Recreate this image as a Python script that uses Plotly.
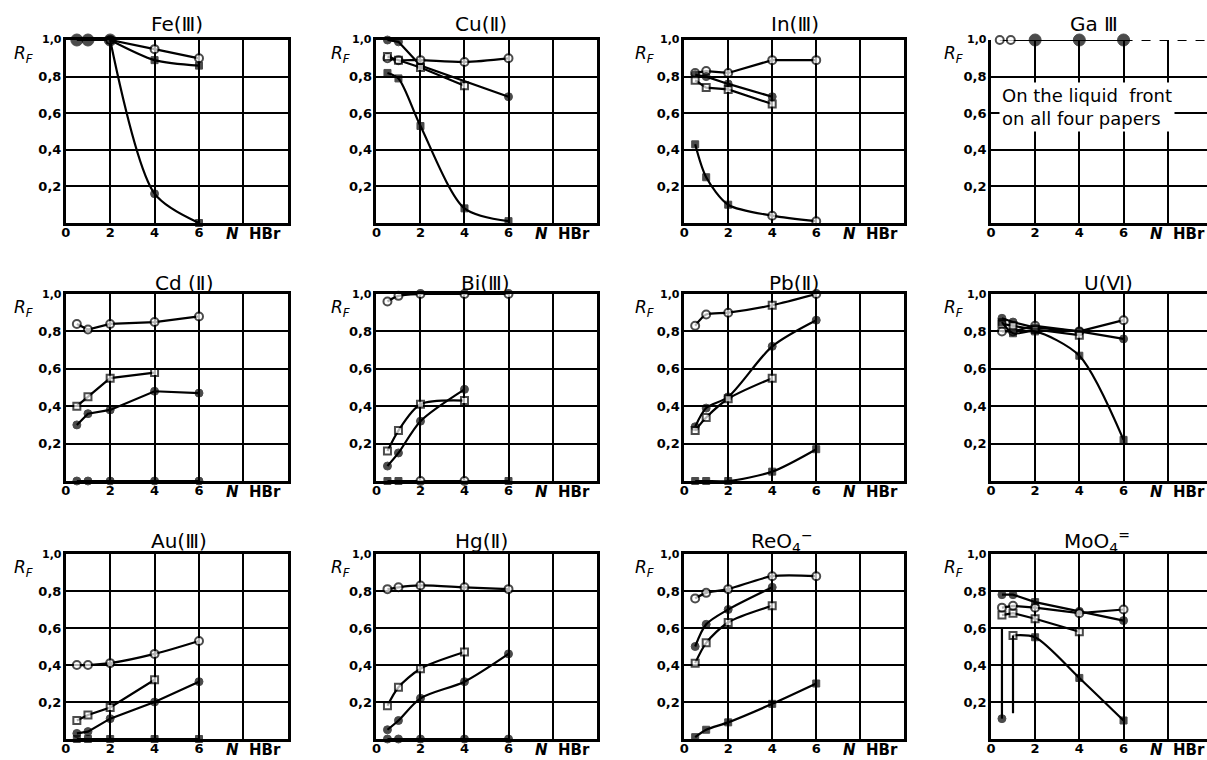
import plotly.graph_objects as go

W, H = 1207, 760

# ---------------- text / ticks ----------------
titles = ["Fe(Ⅲ)", "Cu(Ⅱ)", "In(Ⅲ)", "Ga Ⅲ",
          "Cd (Ⅱ)", "Bi(Ⅲ)", "Pb(Ⅱ)", "U(Ⅵ)",
          "Au(Ⅲ)", "Hg(Ⅱ)", "ReO<sub>4</sub><sup>−</sup>", "MoO<sub>4</sub><sup>=</sup>"]
x_tick_vals = [0, 2, 4, 6]
x_tick_text = ["0", "2", "4", "6"]
x_extra_grid = [8]
y_tick_vals = [0.2, 0.4, 0.6, 0.8]
y_tick_text = ["0,2", "0,4", "0,6", "0,8"]
y_top_val = 1.0
y_top_text = "1,0"
x_label = "<i>N</i>\u00a0\u00a0HBr"
x_label_pos = 8.45
y_label = "<i>R</i><sub><i>F</i></sub>"
y_label_pos = 0.92
ga_note = "On the liquid\u00a0 front<br>on all four papers"
ga_note_y = 0.635
ga_note_x = 0.35

# ---------------- data (N HBr, R_F) ----------------
# Fe(III)
fe_a_x = [0.5, 1, 2];        fe_a_y = [1.0, 1.0, 1.0]
fe_b_x = [2, 4, 6];          fe_b_y = [1.0, 0.95, 0.90]
fe_c_x = [2, 4, 6];          fe_c_y = [1.0, 0.89, 0.86]
fe_d_x = [2, 4, 6];          fe_d_y = [1.0, 0.16, 0.0]
# Cu(II)
cu_a_x = [0.5, 1, 2, 6];     cu_a_y = [1.0, 0.99, 0.86, 0.69]
cu_b_x = [0.5, 1, 2, 4, 6];  cu_b_y = [0.90, 0.89, 0.89, 0.88, 0.90]
cu_c_x = [0.5, 1, 2, 4];     cu_c_y = [0.91, 0.89, 0.85, 0.75]
cu_d_x = [0.5, 1, 2, 4, 6];  cu_d_y = [0.82, 0.79, 0.53, 0.08, 0.01]
# In(III)
in_a_x = [0.5, 1, 2, 4, 6];  in_a_y = [0.82, 0.83, 0.82, 0.89, 0.89]
in_b_x = [0.5, 1, 2, 4];     in_b_y = [0.81, 0.80, 0.76, 0.69]
in_c_x = [0.5, 1, 2, 4];     in_c_y = [0.78, 0.74, 0.73, 0.65]
in_d_x = [0.5, 1, 2, 4, 6];  in_d_y = [0.43, 0.25, 0.10, 0.04, 0.01]
# Ga(III)
ga_a_x = [0.4, 0.9];         ga_a_y = [1.0, 1.0]
ga_b_x = [2, 4, 6];          ga_b_y = [1.0, 1.0, 1.0]
# Cd(II)
cd_a_x = [0.5, 1, 2, 4, 6];  cd_a_y = [0.84, 0.81, 0.84, 0.85, 0.88]
cd_b_x = [0.5, 1, 2, 4];     cd_b_y = [0.40, 0.45, 0.55, 0.58]
cd_c_x = [0.5, 1, 2, 4, 6];  cd_c_y = [0.30, 0.36, 0.38, 0.48, 0.47]
cd_d_x = [0.5, 1, 2, 4, 6];  cd_d_y = [0, 0, 0, 0, 0]
# Bi(III)
bi_a_x = [0.5, 1, 2, 4, 6];  bi_a_y = [0.96, 0.99, 1.0, 1.0, 1.0]
bi_b_x = [0.5, 1, 2, 4];     bi_b_y = [0.16, 0.27, 0.41, 0.43]
bi_c_x = [0.5, 1, 2, 4];     bi_c_y = [0.08, 0.15, 0.32, 0.49]
bi_d_x = [0.5, 1, 2, 4, 6];  bi_d_y = [0, 0, 0, 0, 0]
# Pb(II)
pb_a_x = [0.5, 1, 2, 4, 6];  pb_a_y = [0.83, 0.89, 0.90, 0.94, 1.0]
pb_b_x = [0.5, 1, 2, 4, 6];  pb_b_y = [0.29, 0.39, 0.45, 0.72, 0.86]
pb_c_x = [0.5, 1, 2, 4];     pb_c_y = [0.27, 0.34, 0.44, 0.55]
pb_d_x = [0.5, 1, 2, 4, 6];  pb_d_y = [0, 0, 0, 0.05, 0.17]
# U(VI)
u_a_x = [0.5, 1, 2, 4, 6];   u_a_y = [0.80, 0.80, 0.83, 0.80, 0.86]
u_b_x = [0.5, 1, 2, 4, 6];   u_b_y = [0.87, 0.85, 0.82, 0.80, 0.76]
u_c_x = [0.5, 1, 2, 4];      u_c_y = [0.84, 0.83, 0.81, 0.78]
u_d_x = [0.5, 1, 2, 4, 6];   u_d_y = [0.85, 0.79, 0.80, 0.67, 0.22]
# Au(III)
au_a_x = [0.5, 1, 2, 4, 6];  au_a_y = [0.40, 0.40, 0.41, 0.46, 0.53]
au_b_x = [0.5, 1, 2, 4];     au_b_y = [0.10, 0.13, 0.17, 0.32]
au_c_x = [0.5, 1, 2, 4, 6];  au_c_y = [0.03, 0.04, 0.11, 0.20, 0.31]
au_d_x = [0.5, 1, 2, 4, 6];  au_d_y = [0, 0, 0, 0, 0]
# Hg(II)
hg_a_x = [0.5, 1, 2, 4, 6];  hg_a_y = [0.81, 0.82, 0.83, 0.82, 0.81]
hg_b_x = [0.5, 1, 2, 4];     hg_b_y = [0.18, 0.28, 0.38, 0.47]
hg_c_x = [0.5, 1, 2, 4, 6];  hg_c_y = [0.05, 0.10, 0.22, 0.31, 0.46]
hg_d_x = [0.5, 1, 2, 4, 6];  hg_d_y = [0, 0, 0, 0, 0]
# ReO4-
re_a_x = [0.5, 1, 2, 4, 6];  re_a_y = [0.76, 0.79, 0.81, 0.88, 0.88]
re_b_x = [0.5, 1, 2, 4];     re_b_y = [0.50, 0.62, 0.70, 0.82]
re_c_x = [0.5, 1, 2, 4];     re_c_y = [0.41, 0.52, 0.63, 0.72]
re_d_x = [0.5, 1, 2, 4, 6];  re_d_y = [0.01, 0.05, 0.09, 0.19, 0.30]
# MoO4=
mo_a_x = [0.5, 1, 2, 4, 6];  mo_a_y = [0.78, 0.78, 0.74, 0.69, 0.64]
mo_b_x = [0.5, 1, 2, 4, 6];  mo_b_y = [0.71, 0.72, 0.71, 0.68, 0.70]
mo_c_x = [0.5, 1, 2, 4];     mo_c_y = [0.67, 0.68, 0.65, 0.58]
mo_d_x = [1, 2, 4, 6];       mo_d_y = [0.56, 0.55, 0.33, 0.10]
mo_streak_x = [0.5, 1];      mo_streak_lo = [0.11, 0.14];  mo_streak_hi = [0.60, 0.56]

# ---------------- styles ----------------
MK = {
    "oc": dict(symbol="circle", size=8, color="white", lw=2),
    "fc": dict(symbol="circle", size=8, color="black", lw=1),
    "FC": dict(symbol="circle", size=12, color="black", lw=1),
    "os": dict(symbol="square", size=7, color="white", lw=2),
    "fs": dict(symbol="square", size=7, color="black", lw=1),
    "no": dict(symbol="circle", size=1, color="black", lw=0),
}

series = [
    (0, fe_a_x, fe_a_y, "FC", "linear"),
    (0, fe_b_x, fe_b_y, "oc", "spline"),
    (0, fe_c_x, fe_c_y, "fs", "spline"),
    (0, fe_d_x, fe_d_y, ["no", "fc", "fs"], "spline"),
    (1, cu_a_x, cu_a_y, "fc", "linear"),
    (1, cu_b_x, cu_b_y, "oc", "spline"),
    (1, cu_c_x, cu_c_y, "os", "linear"),
    (1, cu_d_x, cu_d_y, "fs", "spline"),
    (2, in_a_x, in_a_y, "oc", "linear"),
    (2, in_b_x, in_b_y, "fc", "linear"),
    (2, in_c_x, in_c_y, "os", "linear"),
    (2, in_d_x, in_d_y, ["fs", "fs", "fs", "oc", "oc"], "spline"),
    (3, ga_a_x + ga_b_x, ga_a_y + ga_b_y, ["oc", "oc", "FC", "FC", "FC"], "linear"),
    (4, cd_a_x, cd_a_y, "oc", "linear"),
    (4, cd_b_x, cd_b_y, "os", "linear"),
    (4, cd_c_x, cd_c_y, "fc", "linear"),
    (4, cd_d_x, cd_d_y, "fc", "linear"),
    (5, bi_a_x, bi_a_y, "oc", "spline"),
    (5, bi_b_x, bi_b_y, "os", "spline"),
    (5, bi_c_x, bi_c_y, "fc", "spline"),
    (5, bi_d_x, bi_d_y, ["fs", "fs", "oc", "oc", "fs"], "linear"),
    (6, pb_a_x, pb_a_y, ["oc", "oc", "oc", "os", "oc"], "spline"),
    (6, pb_b_x, pb_b_y, "fc", "spline"),
    (6, pb_c_x, pb_c_y, "os", "spline"),
    (6, pb_d_x, pb_d_y, "fs", "spline"),
    (7, u_a_x, u_a_y, "oc", "linear"),
    (7, u_b_x, u_b_y, "fc", "linear"),
    (7, u_c_x, u_c_y, "os", "linear"),
    (7, u_d_x, u_d_y, "fs", "spline"),
    (8, au_a_x, au_a_y, "oc", "spline"),
    (8, au_b_x, au_b_y, "os", "linear"),
    (8, au_c_x, au_c_y, "fc", "linear"),
    (8, au_d_x, au_d_y, "fs", "linear"),
    (9, hg_a_x, hg_a_y, "oc", "spline"),
    (9, hg_b_x, hg_b_y, "os", "spline"),
    (9, hg_c_x, hg_c_y, "fc", "spline"),
    (9, hg_d_x, hg_d_y, "fc", "linear"),
    (10, re_a_x, re_a_y, "oc", "spline"),
    (10, re_b_x, re_b_y, "fc", "spline"),
    (10, re_c_x, re_c_y, "os", "spline"),
    (10, re_d_x, re_d_y, "fs", "spline"),
    (11, mo_a_x, mo_a_y, ["fc", "fc", "fs", "fc", "fc"], "linear"),
    (11, mo_b_x, mo_b_y, "oc", "linear"),
    (11, mo_c_x, mo_c_y, "os", "linear"),
    (11, mo_d_x, mo_d_y, ["os", "fs", "fs", "fs"], "spline"),
]

# ---------------- geometry (pixels) ----------------
COLS = [(61, 284), (373, 594), (682, 903), (990, 1207)]
ROWS = [(40, 223), (294, 481), (554, 739)]
UNIT = 22.2
TITLE_CX = [173, 478, 793, 1094, 180, 483, 792, 1108, 175, 478, 780, 1097]
TITLE_CY = [24, 283, 541]
RF_DX = [-42, -36, -40, -37]
FONT = "DejaVu Sans"


def sfx(i):
    return "" if i == 0 else str(i + 1)


def marker_for(codes, n):
    if isinstance(codes, str):
        codes = [codes] * n
    return dict(symbol=[MK[c]["symbol"] for c in codes],
                size=[MK[c]["size"] for c in codes],
                color=[MK[c]["color"] for c in codes],
                line=dict(color="black", width=[MK[c]["lw"] for c in codes]))


fig = go.Figure()
layout = {}
annotations = []
xranges = []

for i in range(12):
    r, c = divmod(i, 4)
    x0, x1 = COLS[c]
    y0, y1 = ROWS[r]
    xr = 10 if c < 3 else (x1 - x0) / UNIT
    xranges.append(xr)
    s = sfx(i)
    layout["xaxis" + s] = dict(
        domain=[x0 / W, x1 / W], range=[0, xr], anchor="y" + s,
        tickvals=x_tick_vals, ticktext=x_tick_text,
        showgrid=True, gridcolor="black", gridwidth=2,
        minor=dict(tickvals=x_extra_grid, showgrid=True, gridcolor="black",
                   gridwidth=2, ticks=""),
        showline=True, linecolor="black", linewidth=2.5,
        mirror=(i != 3), zeroline=False, ticks="", fixedrange=True,
        ticklabelstandoff=-4,
        tickfont=dict(family=FONT, size=13, color="black", weight="bold"))
    layout["yaxis" + s] = dict(
        domain=[1 - y1 / H, 1 - y0 / H], range=[0, 1.0], anchor="x" + s,
        tickvals=y_tick_vals, ticktext=y_tick_text,
        showgrid=True, gridcolor="black", gridwidth=2,
        showline=True, linecolor="black", linewidth=2.5,
        mirror=(c < 3), zeroline=False, ticks="", fixedrange=True,
        ticklabelstandoff=-1,
        tickfont=dict(family=FONT, size=13, color="black", weight="bold"))

    # panel title
    annotations.append(dict(text=titles[i], xref="paper", yref="paper",
                            x=TITLE_CX[i] / W, y=1 - TITLE_CY[r] / H,
                            xanchor="center", yanchor="middle", showarrow=False,
                            font=dict(family=FONT, size=20, color="black")))
    # R_F label
    annotations.append(dict(text=y_label, xref="x" + s + " domain", yref="y" + s,
                            x=0, y=y_label_pos, xshift=RF_DX[c],
                            xanchor="center", yanchor="middle", showarrow=False,
                            font=dict(family=FONT, size=17, color="black")))
    # top tick label 1,0
    annotations.append(dict(text=y_top_text, xref="x" + s + " domain", yref="y" + s,
                            x=0, y=y_top_val, xshift=-2, xanchor="right",
                            yanchor="middle", showarrow=False,
                            font=dict(family=FONT, size=11, color="black", weight="bold")))
    # N HBr label
    annotations.append(dict(text=x_label, xref="x" + s, yref="y" + s + " domain",
                            x=x_label_pos, y=0, yshift=0, xanchor="center",
                            yanchor="top", showarrow=False,
                            font=dict(family=FONT, size=15, color="black", weight="bold")))

for (p, xs, ys, mk, shape) in series:
    s = sfx(p)
    fig.add_trace(go.Scatter(
        x=xs, y=ys, xaxis="x" + s, yaxis="y" + s, mode="lines+markers",
        line=dict(color="black", width=2.2, shape=shape, smoothing=0.8),
        marker=marker_for(mk, len(xs)), cliponaxis=False, hoverinfo="skip"))

# Ga: dashed continuation of the front line to the panel edge
fig.add_trace(go.Scatter(
    x=[ga_b_x[-1], xranges[3]], y=[ga_b_y[-1], ga_b_y[-1]], xaxis="x4", yaxis="y4",
    mode="lines", line=dict(color="black", width=2, dash="dash"),
    cliponaxis=False, hoverinfo="skip"))

# MoO4: vertical streaks
for sx, lo, hi in zip(mo_streak_x, mo_streak_lo, mo_streak_hi):
    fig.add_trace(go.Scatter(
        x=[sx, sx], y=[lo, hi], xaxis="x12", yaxis="y12", mode="lines",
        line=dict(color="black", width=2.2), cliponaxis=False, hoverinfo="skip"))
fig.add_trace(go.Scatter(
    x=mo_streak_x, y=mo_streak_lo, xaxis="x12", yaxis="y12", mode="markers",
    marker=marker_for(["fc", "no"], 2), cliponaxis=False, hoverinfo="skip"))

# Ga note
annotations.append(dict(text=ga_note, xref="x4", yref="y4", x=ga_note_x, y=ga_note_y,
                        xanchor="left", yanchor="middle", align="left", showarrow=False,
                        bgcolor="white", borderpad=2,
                        font=dict(family=FONT, size=18, color="black")))

fig.update_layout(**layout)
fig.update_layout(width=W, height=H, autosize=False,
                  margin=dict(l=0, r=0, t=0, b=0),
                  paper_bgcolor="white", plot_bgcolor="white",
                  showlegend=False, annotations=annotations,
                  font=dict(family=FONT, color="black"))

fig.write_html("out.html")
